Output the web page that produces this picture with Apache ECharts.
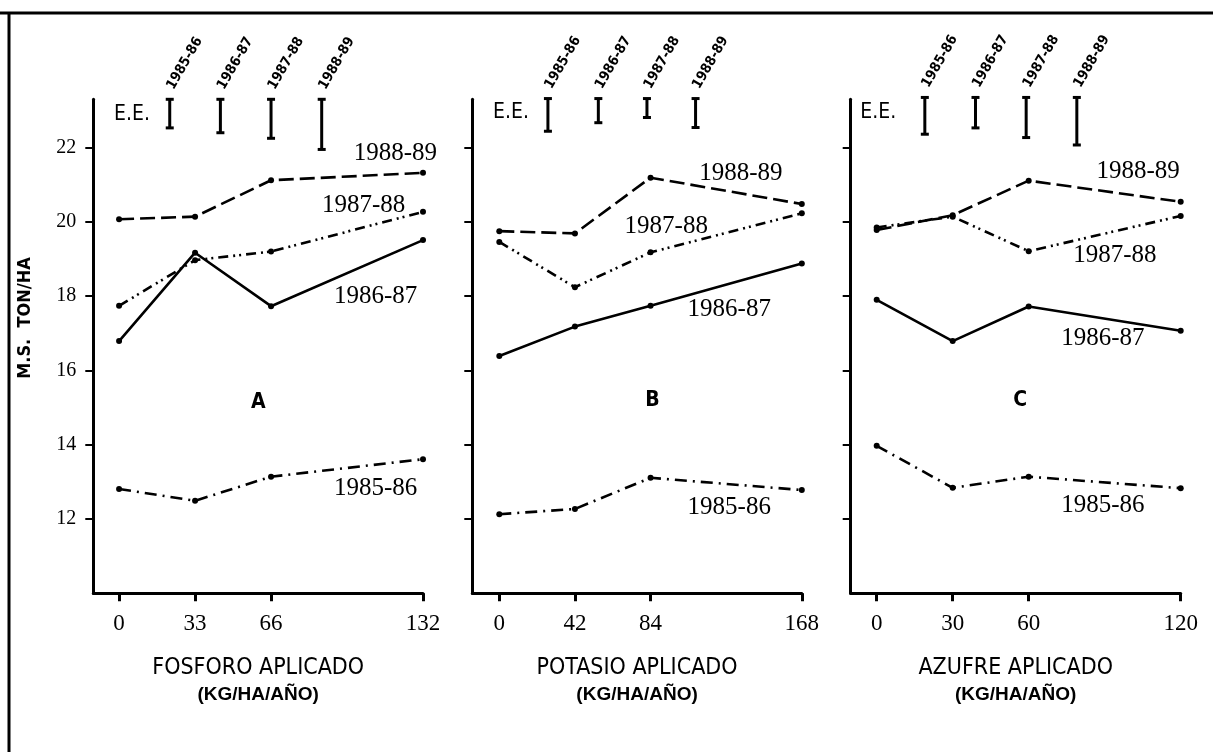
<!DOCTYPE html>
<html>
<head>
<meta charset="utf-8">
<script src="https://cdn.jsdelivr.net/npm/echarts@6/dist/echarts.min.js"></script>
<style>
html,body{margin:0;padding:0;background:#fff;}
#c{width:1213px;height:752px;}
</style>
</head>
<body>
<div id="c"></div>
<script>
// ---------- DATA ----------
const seasons = ['1985-86', '1986-87', '1987-88', '1988-89'];
const yTicks = [12, 14, 16, 18, 20, 22];

// Panel A: FOSFORO
const xA = [0, 33, 66, 132];
const A_1985 = [12.81, 12.49, 13.14, 13.61];
const A_1986 = [16.79, 19.17, 17.73, 19.51];
const A_1987 = [17.74, 18.97, 19.20, 20.27];
const A_1988 = [20.07, 20.14, 21.12, 21.32];
const eeX_A = [22, 44, 66, 88];
const eeTop_A = [23.30, 23.30, 23.30, 23.30];
const eeBot_A = [22.53, 22.40, 22.25, 21.95];

// Panel B: POTASIO
const xB = [0, 42, 84, 168];
const B_1985 = [12.13, 12.27, 13.11, 12.78];
const B_1986 = [16.39, 17.18, 17.74, 18.88];
const B_1987 = [19.46, 18.24, 19.18, 20.23];
const B_1988 = [19.75, 19.69, 21.19, 20.48];
const eeX_B = [27, 55, 82, 109];
const eeTop_B = [23.32, 23.32, 23.32, 23.32];
const eeBot_B = [22.44, 22.67, 22.81, 22.54];

// Panel C: AZUFRE
const xC = [0, 30, 60, 120];
const C_1985 = [13.97, 12.84, 13.14, 12.83];
const C_1986 = [17.90, 16.79, 17.72, 17.07];
const C_1987 = [19.85, 20.14, 19.21, 20.16];
const C_1988 = [19.78, 20.18, 21.11, 20.54];
const eeX_C = [19, 39, 59, 79];
const eeTop_C = [23.35, 23.35, 23.35, 23.35];
const eeBot_C = [22.36, 22.53, 22.27, 22.07];

const panelNames = ['FOSFORO APLICADO', 'POTASIO APLICADO', 'AZUFRE APLICADO'];
const unitName = '(KG/HA/AÑO)';
const panelLetters = ['A', 'B', 'C'];
const yName = 'M.S.  TON/HA';
const eeText = 'E.E.';

// ---------- LAYOUT / STYLE ----------
const SERIF = "'Liberation Serif', 'DejaVu Serif', serif";
const NARROW = "'Liberation Sans Narrow', 'DejaVu Sans Condensed', 'Liberation Sans', sans-serif";
const SANS = "'Liberation Sans', 'DejaVu Sans', sans-serif";

const panels = [
  {x: xA, ys: [A_1985, A_1986, A_1987, A_1988], eeX: eeX_A, eeTop: eeTop_A, eeBot: eeBot_A,
   grid: {left: 93.3, top: 99.3, width: 329.7, height: 494}, min: -11.2, max: 132,
   labelPos: [[111.4, 12.83], [111.4, 18.0], [106.2, 20.43], [120, 21.85]],
   letterPos: [60.5, 15.13], eePos: [5.6, 22.88]},
  {x: xB, ys: [B_1985, B_1986, B_1987, B_1988], eeX: eeX_B, eeTop: eeTop_B, eeBot: eeBot_B,
   grid: {left: 472.3, top: 99.3, width: 329.5, height: 494}, min: -15, max: 168,
   labelPos: [[127.7, 12.3], [127.7, 17.63], [92.7, 19.87], [134.2, 21.31]],
   letterPos: [85, 15.2], eePos: [6.5, 22.93]},
  {x: xC, ys: [C_1985, C_1986, C_1987, C_1988], eeX: eeX_C, eeTop: eeTop_C, eeBot: eeBot_C,
   grid: {left: 850.7, top: 99.3, width: 330, height: 494}, min: -10.26, max: 120,
   labelPos: [[89.3, 12.37], [89.3, 16.87], [94, 19.1], [103.2, 21.35]],
   letterPos: [56.6, 15.2], eePos: [0.6, 22.93]}
];

const lineTypes = [
  [12, 6, 2, 6],          // 1985-86 dash-dot
  'solid',                // 1986-87
  [10, 5, 2, 4, 2, 5],    // 1987-88 dash-dot-dot
  [15, 6]                 // 1988-89 dashed
];

const grids = [], xAxes = [], yAxes = [], series = [];

panels.forEach((p, i) => {
  grids.push(Object.assign({containLabel: false}, p.grid));
  xAxes.push({
    type: 'value', gridIndex: i, min: p.min, max: p.max,
    splitLine: {show: false},
    axisLine: {show: true, onZero: false, lineStyle: {color: '#000', width: 3}},
    axisTick: {show: true, customValues: p.x, length: 8, lineStyle: {color: '#000', width: 3}},
    axisLabel: {show: true, customValues: p.x, color: '#000', fontFamily: SERIF, fontSize: 23, margin: 19},
    name: '{a|' + panelNames[i] + '}\n{b|' + unitName + '}',
    nameLocation: 'middle', nameGap: 61,
    nameTextStyle: {
      rich: {
        a: {fontFamily: NARROW, fontSize: 23, color: '#000', lineHeight: 27, align: 'center'},
        b: {fontFamily: SANS, fontWeight: 'bold', fontSize: 19, color: '#000', lineHeight: 26, align: 'center'}
      }
    }
  });
  yAxes.push({
    type: 'value', gridIndex: i, min: 10, max: 23.3,
    splitLine: {show: false},
    axisLine: {show: true, onZero: false, lineStyle: {color: '#000', width: 3}},
    axisTick: {show: true, customValues: yTicks, length: 8, lineStyle: {color: '#000', width: 2}},
    axisLabel: {show: i === 0, customValues: yTicks, color: '#000', fontFamily: SERIF, fontSize: 20, margin: 17}
  });

  // data lines
  p.ys.forEach((vals, k) => {
    series.push({
      type: 'line', name: seasons[k], xAxisIndex: i, yAxisIndex: i,
      data: p.x.map((xv, j) => [xv, vals[j]]),
      symbol: 'circle', symbolSize: 6,
      itemStyle: {color: '#000'},
      lineStyle: {color: '#000', width: 2.6, type: lineTypes[k], cap: 'butt'},
      label: {show: false}, emphasis: {disabled: true}, z: 3
    });
  });

  // series name labels + letter + E.E.
  const txt = p.labelPos.map((pos, k) => ({value: pos, name: seasons[k], kind: 's'}));
  txt.push({value: p.letterPos, name: panelLetters[i], kind: 'l'});
  txt.push({value: p.eePos, name: eeText, kind: 'e'});
  series.push({
    type: 'custom', xAxisIndex: i, yAxisIndex: i, clip: false, silent: true,
    data: txt.map(t => t.value),
    renderItem: (params, api) => {
      const t = txt[params.dataIndex];
      const pt = api.coord([api.value(0), api.value(1)]);
      let font;
      if (t.kind === 's') font = '25px ' + SERIF;
      else if (t.kind === 'l') font = 'bold 21px ' + NARROW;
      else font = '21px ' + NARROW;
      return {type: 'text', x: pt[0], y: pt[1],
        style: {text: t.name, font: font, fill: '#000', align: 'center', verticalAlign: 'middle'}};
    }
  });

  // error bars (E.E.)
  series.push({
    type: 'custom', xAxisIndex: i, yAxisIndex: i, clip: false, silent: true,
    data: p.eeX.map((xv, j) => [xv, p.eeTop[j], p.eeBot[j]]),
    renderItem: (params, api) => {
      const top = api.coord([api.value(0), api.value(1)]);
      const bot = api.coord([api.value(0), api.value(2)]);
      const hw = 4;
      const st = {stroke: '#000', lineWidth: 3};
      return {type: 'group', children: [
        {type: 'line', shape: {x1: top[0], y1: top[1], x2: bot[0], y2: bot[1]}, style: st},
        {type: 'line', shape: {x1: top[0] - hw, y1: top[1], x2: top[0] + hw, y2: top[1]}, style: st},
        {type: 'line', shape: {x1: bot[0] - hw, y1: bot[1], x2: bot[0] + hw, y2: bot[1]}, style: st},
        {type: 'text', x: top[0] + 15, y: top[1] - 36, rotation: Math.PI / 3,
         style: {text: seasons[params.dataIndex], font: 'bold 14px ' + NARROW, fill: '#000',
                 align: 'center', verticalAlign: 'middle'}}
      ]};
    }
  });
});

const chart = echarts.init(document.getElementById('c'), null, {renderer: 'canvas'});
chart.setOption({
  animation: false,
  backgroundColor: '#fff',
  grid: grids, xAxis: xAxes, yAxis: yAxes, series: series,
  graphic: [
    {type: 'line', shape: {x1: 0, y1: 13, x2: 1213, y2: 13}, style: {stroke: '#000', lineWidth: 3}},
    {type: 'line', shape: {x1: 9, y1: 13, x2: 9, y2: 752}, style: {stroke: '#000', lineWidth: 3}},
    {type: 'text', x: 25, y: 318, rotation: Math.PI / 2,
     style: {text: yName, font: 'bold 18px ' + NARROW, fill: '#000', align: 'center', verticalAlign: 'middle'}}
  ]
});
</script>
</body>
</html>
